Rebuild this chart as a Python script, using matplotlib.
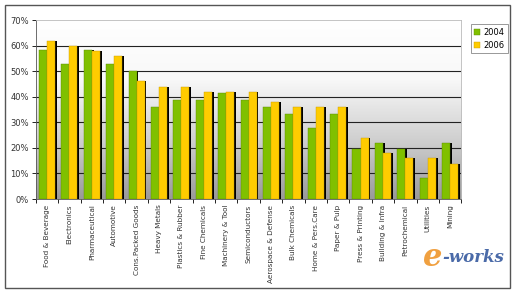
import numpy as np
import matplotlib.pyplot as plt
from matplotlib.patches import Rectangle
from matplotlib.colors import LinearSegmentedColormap

# Datos del gráfico
categorias = ["Food & Beverage", "Electronics", "Pharmaceutical", "Automotive",
              "Cons.Packed Goods", "Heavy Metals", "Plastics & Rubber",
              "Fine Chemicals", "Machinery & Tool", "Semiconductors",
              "Aerospace & Defense", "Bulk Chemicals", "Home & Pers.Care",
              "Paper & Pulp", "Press & Printing", "Building & Infra",
              "Petrochemical", "Utilities", "Mining"]
valores_2004 = [58.3, 52.7, 58.3, 52.7, 50.0, 36.0, 38.7, 38.7, 41.3, 38.7,
                36.0, 33.2, 27.7, 33.2, 19.5, 22.0, 19.5, 8.2, 22.0]
valores_2006 = [62.0, 60.0, 58.0, 56.0, 46.0, 43.8, 43.8, 41.8, 41.8, 41.8,
                37.8, 36.0, 36.0, 36.0, 24.0, 18.0, 16.0, 16.0, 13.7]
series = ["2004", "2006"]

verde = "#80c000"
amarillo = "#ffcc00"

fig = plt.figure(figsize=(5.12, 2.91), dpi=100)
# marco exterior
fig.patches.append(Rectangle((0.010, 0.010), 0.987, 0.972, transform=fig.transFigure,
                             fill=False, edgecolor="#555555", linewidth=1.0))

ax = fig.add_axes([0.070, 0.316, 0.831, 0.615])

x = np.arange(len(categorias))
ancho = 0.36
sombra = 0.08

# fondo degradado
grad = np.linspace(1.0, 0.0, 256).reshape(-1, 1)
cmap = LinearSegmentedColormap.from_list("g", ["#9a9a9a", "#d0d0d0", "#f8f8f8", "#ffffff"])
ax.imshow(grad, extent=[-0.5, len(categorias) - 0.5, 0, 70], aspect="auto",
          cmap=cmap, zorder=0)

for v in range(10, 70, 10):
    ax.axhline(v, color="#222222", linewidth=0.8, zorder=1)

# sombras negras a la derecha
ax.bar(x - ancho / 2 + sombra, valores_2004, ancho, color="black", zorder=2)
ax.bar(x + ancho / 2 + sombra, valores_2006, ancho, color="black", zorder=2)
ax.bar(x - ancho / 2, valores_2004, ancho, color=verde, edgecolor="#5a8a00",
       linewidth=0.3, zorder=3, label=series[0])
ax.bar(x + ancho / 2, valores_2006, ancho, color=amarillo, edgecolor="#c89a00",
       linewidth=0.3, zorder=3, label=series[1])

ax.set_xlim(-0.5, len(categorias) - 0.5)
ax.set_ylim(0, 70)
ax.set_yticks(range(0, 80, 10))
ax.set_yticklabels([f"{v}%" for v in range(0, 80, 10)], fontsize=6, color="#333333")
ax.set_xticks(x)
ax.set_xticklabels(categorias, rotation=90, fontsize=5.2, color="#333333")
ax.tick_params(axis="x", length=0, pad=4)
ax.tick_params(axis="y", length=3, width=0.6, pad=2, direction="out")
ax.set_xticks(np.arange(-0.5, len(categorias), 1), minor=True)
ax.tick_params(axis="x", which="minor", length=3, width=0.6)

for s in ["top", "right"]:
    ax.spines[s].set_color("#bbbbbb")
    ax.spines[s].set_linewidth(0.6)
ax.spines["left"].set_color("#555555")
ax.spines["bottom"].set_color("#555555")
ax.spines["left"].set_linewidth(0.6)
ax.spines["bottom"].set_linewidth(0.6)

leg = ax.legend(loc="upper left", bbox_to_anchor=(1.012, 1.0), fontsize=6,
                handlelength=0.7, handleheight=0.7, handletextpad=0.4,
                borderpad=0.4, labelspacing=0.5, fancybox=False, framealpha=1)
leg.get_frame().set_edgecolor("#888888")
leg.get_frame().set_linewidth(0.6)

# logo
fig.text(0.845, 0.085, "e", color="#f0a040", fontsize=22, style="italic",
         family="DejaVu Serif", weight="bold", ha="center")
fig.text(0.925, 0.100, "-works", color="#4a6aa8", fontsize=12, style="italic",
         family="DejaVu Serif", weight="bold", ha="center")

fig.savefig("out.png", dpi=100)
